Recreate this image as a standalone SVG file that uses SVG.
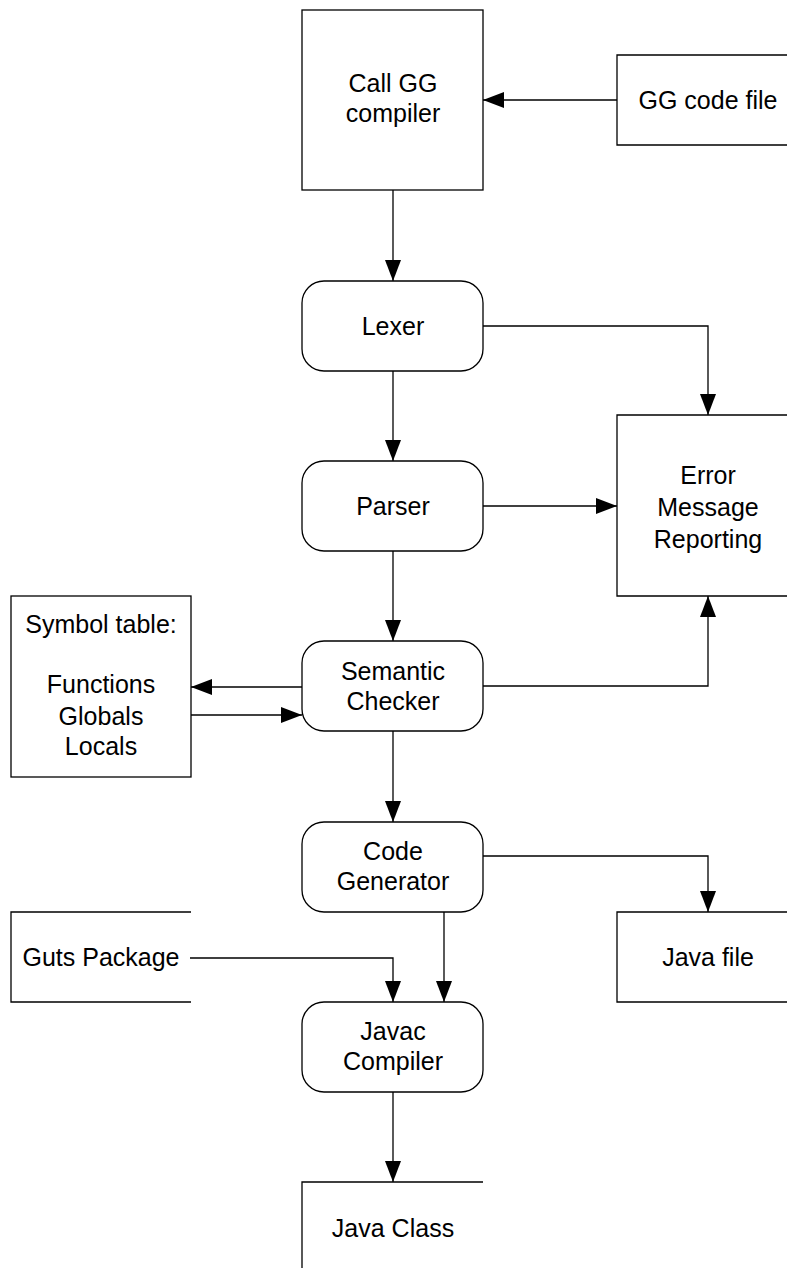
<svg xmlns="http://www.w3.org/2000/svg" width="787" height="1268" viewBox="0 0 787 1268">
  <style>
    .box { fill: #fff; stroke: #000; stroke-width: 1.3; }
    .edge { fill: none; stroke: #000; stroke-width: 1.3; }
    .wire { fill: none; stroke: #000; stroke-width: 1.3; marker-end: url(#arrow); }
    text { font-family: "Liberation Sans", Arial, sans-serif; font-size: 25px; fill: #000; text-anchor: middle; }
  </style>
  <defs>
    <marker id="arrow" markerUnits="userSpaceOnUse" markerWidth="22" markerHeight="18" refX="21" refY="8" orient="auto">
      <path d="M0,0 L21,8 L0,16 Z" fill="#000"/>
    </marker>
  </defs>
  <rect width="787" height="1268" fill="#fff"/>

  <g id="connectors">
    <path class="wire" d="M617,100 H483"/>
    <path class="wire" d="M393,190 V281"/>
    <path class="wire" d="M483,326 H708 V415"/>
    <path class="wire" d="M393,371 V461"/>
    <path class="wire" d="M483,506 H617"/>
    <path class="wire" d="M393,551 V641"/>
    <path class="wire" d="M302,687 H191"/>
    <path class="wire" d="M191,715 H302"/>
    <path class="wire" d="M483,686 H708 V596"/>
    <path class="wire" d="M393,731 V822"/>
    <path class="wire" d="M483,856 H708 V912"/>
    <path class="wire" d="M190,958 H393 V1002"/>
    <path class="wire" d="M444,912 V1002"/>
    <path class="wire" d="M393,1092 V1182"/>
  </g>

  <g id="call-gg-compiler">
    <rect class="box" x="302" y="10" width="181" height="180"/>
    <text x="393" y="92">Call GG</text>
    <text x="393" y="122">compiler</text>
  </g>

  <g id="gg-code-file">
    <path class="edge" d="M790,55 H617 V145 H790"/>
    <text x="708" y="109">GG code file</text>
  </g>

  <g id="lexer">
    <rect class="box" x="302" y="281" width="181" height="90" rx="22" ry="22"/>
    <text x="393" y="335">Lexer</text>
  </g>

  <g id="error-reporting">
    <path class="edge" d="M790,415 H617 V596 H790"/>
    <text x="708" y="484">Error</text>
    <text x="708" y="516">Message</text>
    <text x="708" y="548">Reporting</text>
  </g>

  <g id="parser">
    <rect class="box" x="302" y="461" width="181" height="90" rx="22" ry="22"/>
    <text x="393" y="515">Parser</text>
  </g>

  <g id="symbol-table">
    <rect class="box" x="11" y="596" width="180" height="181"/>
    <text x="101" y="633">Symbol table:</text>
    <text x="101" y="693">Functions</text>
    <text x="101" y="725">Globals</text>
    <text x="101" y="755">Locals</text>
  </g>

  <g id="semantic-checker">
    <rect class="box" x="302" y="641" width="181" height="90" rx="22" ry="22"/>
    <text x="393" y="680">Semantic</text>
    <text x="393" y="710">Checker</text>
  </g>

  <g id="code-generator">
    <rect class="box" x="302" y="822" width="181" height="90" rx="22" ry="22"/>
    <text x="393" y="860">Code</text>
    <text x="393" y="890">Generator</text>
  </g>

  <g id="java-file">
    <path class="edge" d="M790,912 H617 V1002 H790"/>
    <text x="708" y="966">Java file</text>
  </g>

  <g id="guts-package">
    <path class="edge" d="M191,912 H11 V1002 H191"/>
    <text x="101" y="966">Guts Package</text>
  </g>

  <g id="javac-compiler">
    <rect class="box" x="302" y="1002" width="181" height="90" rx="22" ry="22"/>
    <text x="393" y="1040">Javac</text>
    <text x="393" y="1070">Compiler</text>
  </g>

  <g id="java-class">
    <path class="edge" d="M483,1182 H302 V1270"/>
    <text x="393" y="1237">Java Class</text>
  </g>
</svg>
